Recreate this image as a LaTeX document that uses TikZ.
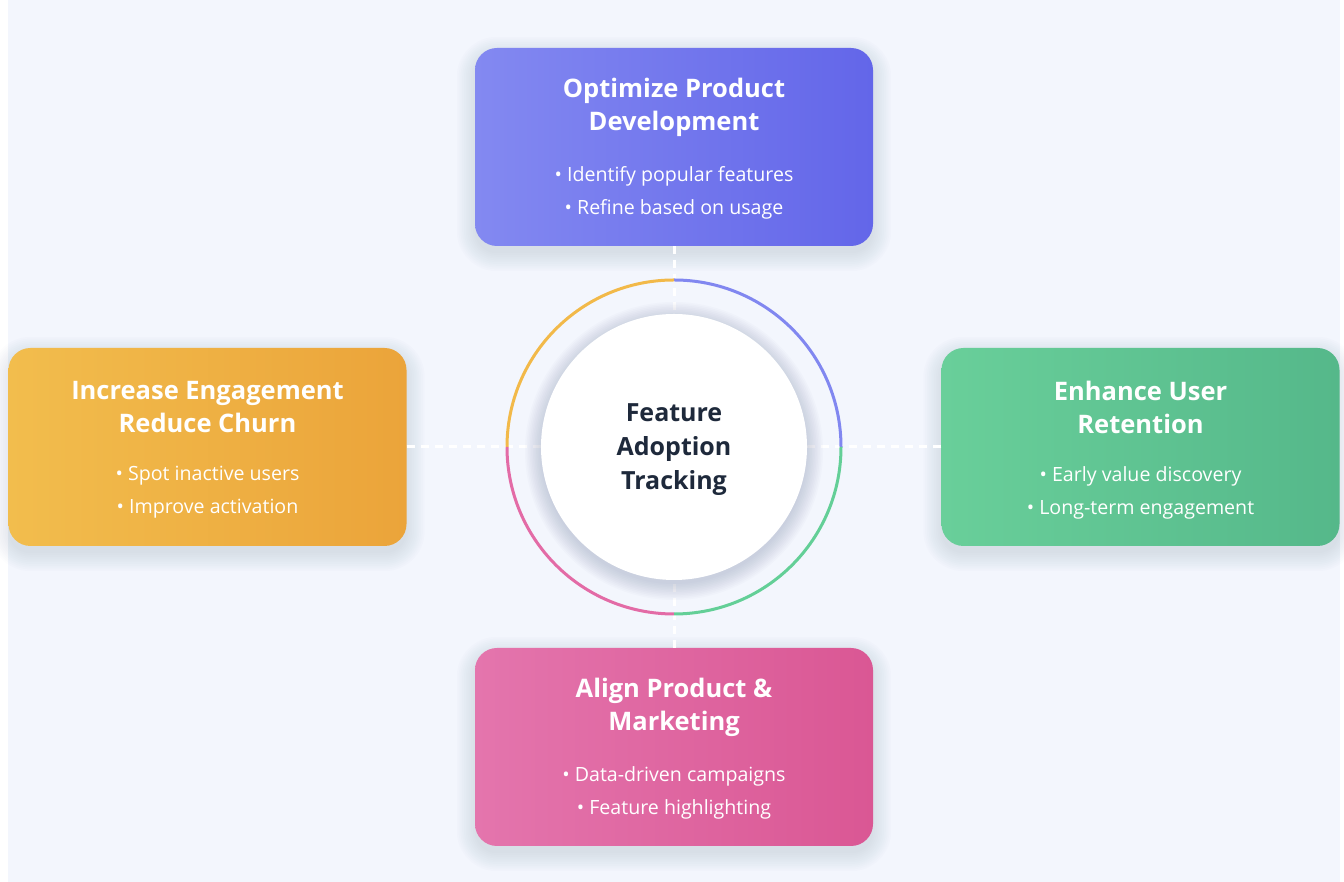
\documentclass[tikz,border=0pt]{standalone}
\usepackage{fontspec}
\setmainfont{Open Sans}
\usetikzlibrary{backgrounds}
\pgfdeclarelayer{bgfill}
\pgfsetlayers{bgfill,background,main}
\definecolor{bg}{HTML}{F3F6FD}
\definecolor{shad}{HTML}{3A4A80}
\definecolor{blueL}{HTML}{8389F1}
\definecolor{blueR}{HTML}{6366E9}
\definecolor{orgL}{HTML}{F2BD4D}
\definecolor{orgR}{HTML}{EBA43A}
\definecolor{grnL}{HTML}{69CF9A}
\definecolor{grnR}{HTML}{55B88A}
\definecolor{pnkL}{HTML}{E475AD}
\definecolor{pnkR}{HTML}{DA5794}
\definecolor{ringB}{HTML}{8187F0}
\definecolor{ringO}{HTML}{F2B949}
\definecolor{ringG}{HTML}{63CF97}
\definecolor{ringP}{HTML}{E36BA6}
\definecolor{dark}{HTML}{1E293B}
\tikzset{
  card/.style={rectangle, rounded corners=22pt, minimum width=398pt, minimum height=198pt, inner sep=0pt},
  ttl/.style={text=white, align=center, font=\fontsize{25.5}{33}\selectfont\bfseries},
  bul/.style={text=white, align=center, font=\fontsize{19.6}{33}\selectfont},
  dashline/.style={draw=white, line width=3pt, dash pattern=on 8pt off 6pt},
  ringseg/.style={line width=3pt},
  shadlayer/.style={fill=shad, opacity=0.013},
}
\begin{document}
\begin{tikzpicture}[x=1pt,y=1pt]
\useasboundingbox (0,0) rectangle (1344,882);
\begin{pgfonlayer}{bgfill}
\fill[bg] (8,0) rectangle (1340,882);
\end{pgfonlayer}
\coordinate (c) at (674,435);

% cards
\node[card, left color=blueL, right color=blueR] (top) at (674,735) {};
\node[card, left color=orgL, right color=orgR] (left) at (207.5,435) {};
\node[card, left color=grnL, right color=grnR] (right) at (1140.5,435) {};
\node[card, left color=pnkL, right color=pnkR] (bottom) at (674,135) {};

% soft shadows of the cards
\begin{pgfonlayer}{background}
\foreach \n in {top,left,right,bottom}{
  \foreach \k in {0,...,10}{
    \pgfmathsetmacro{\rr}{22+1.8*\k}
    \fill[shadlayer, rounded corners=\rr pt]
      ([xshift=-1.8*\k pt, yshift=-1.8*\k pt - 7pt]\n.south west)
      rectangle ([xshift=1.8*\k pt, yshift=1.8*\k pt - 7pt]\n.north east);
  }
}
\end{pgfonlayer}

% inner circle placeholder for dashes
\node[circle, minimum size=266pt, inner sep=0pt] (inner) at (c) {};

% dashed connectors
\draw[dashline] (top.south) -- (inner.north);
\draw[dashline] (left.east) -- (inner.west);
\draw[dashline] (right.west) -- (inner.east);
\draw[dashline] (bottom.north) -- (inner.south);

% ring
\draw[ringseg, ringB] ([shift={(0:167)}]c) arc[start angle=0, end angle=90, radius=167];
\draw[ringseg, ringO] ([shift={(90:167)}]c) arc[start angle=90, end angle=180, radius=167];
\draw[ringseg, ringP] ([shift={(180:167)}]c) arc[start angle=180, end angle=270, radius=167];
\draw[ringseg, ringG] ([shift={(270:167)}]c) arc[start angle=270, end angle=360, radius=167];

% center circle shadow
\foreach \k in {0,...,10}{
  \fill[shadlayer, opacity=0.018] ([yshift=-4pt]c) circle[radius=133+1.6*\k];
}
\node[circle, minimum size=266pt, inner sep=0pt, fill=white] (center) at (c) {};
\node[text=dark, align=center, font=\fontsize{25}{34}\selectfont\bfseries] (ctext) at ([yshift=-3pt]c) {Feature\\Adoption\\Tracking};

% card texts
\node[ttl] (t1) at ([yshift=39.5pt]top.center) {Optimize Product\\Development};
\node[bul] (b1) at ([yshift=-45.5pt]top.center) {• Identify popular features\\• Refine based on usage};

\node[ttl] (t2) at ([yshift=39.5pt]left.center) {Increase Engagement\\Reduce Churn};
\node[bul] (b2) at ([yshift=-45.5pt]left.center) {• Spot inactive users\\• Improve activation};

\node[ttl] (t3) at ([yshift=39.5pt]right.center) {Enhance User\\Retention};
\node[bul] (b3) at ([yshift=-45.5pt]right.center) {• Early value discovery\\• Long-term engagement};

\node[ttl] (t4) at ([yshift=39.5pt]bottom.center) {Align Product \&\\Marketing};
\node[bul] (b4) at ([yshift=-45.5pt]bottom.center) {• Data-driven campaigns\\• Feature highlighting};
\end{tikzpicture}
\end{document}
